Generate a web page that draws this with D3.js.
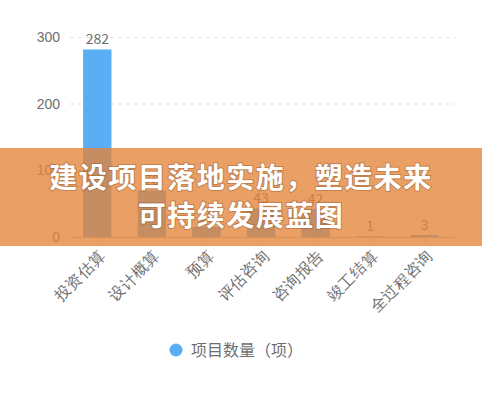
<!DOCTYPE html>
<html>
<head>
<meta charset="utf-8">
<script src="https://cdn.jsdelivr.net/npm/d3@7"></script>
<style>
  body { margin: 0; background: #fff; }
  svg { display: block; font-family: "Noto Sans CJK SC", "Noto Sans", sans-serif; }
  .axis text { fill: #6e6e6e; font-size: 13px; }
  .grid line { stroke: #e3e3e3; stroke-dasharray: 4 4; }
</style>
</head>
<body>
<script>
//chart data
var categories = ["投资估算", "设计概算", "预算", "评估咨询", "咨询报告", "竣工结算", "全过程咨询"];
var counts = [282, 70, 15, 43, 42, 1, 3];
var yTicks = [0, 100, 200, 300];
var seriesName = "项目数量（项）";
var titleLines = ["建设项目落地实施，塑造未来", "可持续发展蓝图"];

var width = 482, height = 394;
var plotLeft = 70, plotRight = 452, plotTop = 37.5, plotBottom = 237;

var svg = d3.select("body").append("svg")
    .attr("width", width)
    .attr("height", height);

var x = d3.scaleBand()
    .domain(categories)
    .range([plotLeft, plotRight])
    .paddingInner(0.48)
    .paddingOuter(0.24);

var y = d3.scaleLinear()
    .domain([0, 300])
    .range([plotBottom, plotTop]);

//dashed grid lines
svg.append("g")
    .attr("class", "grid")
    .selectAll("line")
    .data(yTicks.filter(function(d){ return d > 0; }))
    .enter()
    .append("line")
    .attr("x1", plotLeft)
    .attr("x2", plotRight + 3)
    .attr("y1", function(d){ return y(d); })
    .attr("y2", function(d){ return y(d); });

//y axis labels only
var yAxis = svg.append("g")
    .attr("class", "axis")
    .attr("transform", "translate(" + (plotLeft - 10) + ",0)")
    .call(d3.axisLeft(y).tickValues(yTicks).tickSize(0).tickPadding(0));
yAxis.select(".domain").remove();
yAxis.selectAll("text").style("font-size", "14px");

//bars
svg.selectAll(".bar")
    .data(counts)
    .enter()
    .append("rect")
    .attr("class", "bar")
    .attr("x", function(d, i){ return x(categories[i]); })
    .attr("width", x.bandwidth())
    .attr("y", function(d){ return y(d); })
    .attr("height", function(d){ return plotBottom - y(d); })
    .style("fill", "#5aaef3");

//value labels
svg.selectAll(".num")
    .data(counts)
    .enter()
    .append("text")
    .attr("class", "num")
    .attr("text-anchor", "middle")
    .attr("x", function(d, i){ return x(categories[i]) + x.bandwidth() / 2; })
    .attr("y", function(d){ return y(d) - 5; })
    .style("fill", "#6e6e6e")
    .style("font-size", "14px")
    .text(function(d){ return d; });

//x axis
var xAxis = svg.append("g")
    .attr("class", "axis")
    .attr("transform", "translate(0," + plotBottom + ")")
    .call(d3.axisBottom(x).tickSize(5).tickPadding(4));
xAxis.select(".domain").attr("stroke", "#bbb").attr("d", "M" + plotLeft + ",0.5H" + (plotRight + 3));
xAxis.selectAll(".tick line").attr("stroke", "#bbb");
xAxis.selectAll(".tick text")
    .attr("y", 0)
    .attr("text-anchor", "end")
    .attr("dy", "0.35em")
    .attr("transform", "translate(5,16) rotate(-45)")
    .style("font-size", "15.5px");

//legend
var legend = svg.append("g").attr("transform", "translate(176,350)");
legend.append("circle").attr("r", 6.5).style("fill", "#5aaef3");
legend.append("text")
    .attr("x", 15)
    .attr("dy", "0.35em")
    .style("fill", "#6e6e6e")
    .style("font-size", "16px")
    .text(seriesName);

//orange banner overlay
svg.append("rect")
    .attr("x", 0)
    .attr("y", 148)
    .attr("width", width)
    .attr("height", 98)
    .style("fill", "#e4843a")
    .style("opacity", 0.78);

svg.selectAll(".title")
    .data(titleLines)
    .enter()
    .append("text")
    .attr("class", "title")
    .attr("x", width / 2)
    .attr("y", function(d, i){ return 188 + i * 38; })
    .attr("text-anchor", "middle")
    .style("fill", "#fff")
    .style("font-size", "28px")
    .style("font-weight", "bold")
    .style("letter-spacing", "1.5px")
    .style("paint-order", "stroke")
    .style("stroke", "rgba(120,70,30,0.35)")
    .style("stroke-width", "2px")
    .text(function(d){ return d; });
</script>
</body>
</html>
